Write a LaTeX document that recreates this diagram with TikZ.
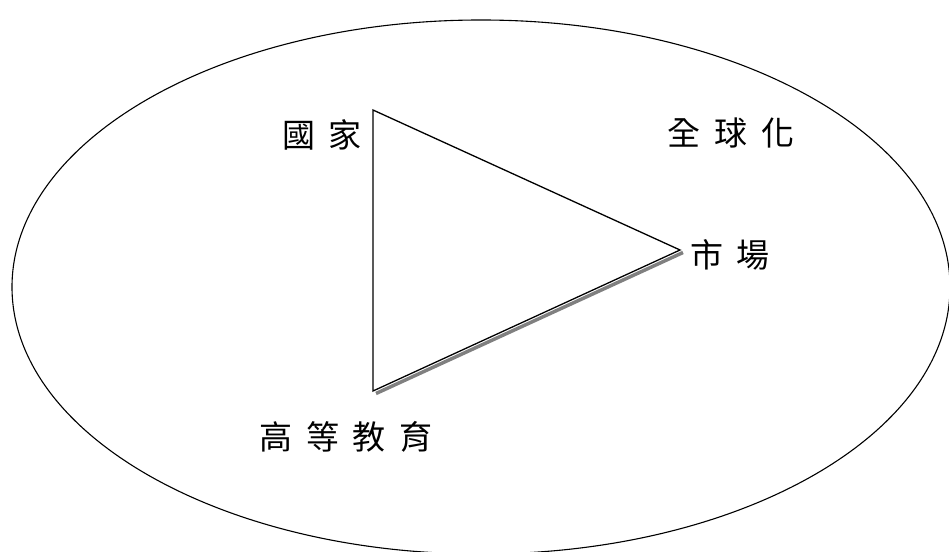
\documentclass[tikz,border=0pt]{standalone}
\usepackage{fontspec}
\newfontfamily\cjk{Noto Sans CJK TC}
\usepackage{tikz}
\newcommand\gap{\hspace{0.42em}}

\begin{document}
\begin{tikzpicture}[x=1pt,y=1pt,
  label/.style={font=\cjk\fontsize{33}{40}\selectfont, inner sep=0pt}]
  \useasboundingbox (0,0) rectangle (949,551);
  \clip (0,0) rectangle (949,551);

  \draw [line width=1.1pt] (481,264) ellipse [x radius=469, y radius=267];

  \coordinate (state) at (373,441);
  \coordinate (edu) at (373,160);
  \coordinate (market) at (680,301);

  % shadow
  \draw [gray, line width=3.5pt] ([shift={(3,-2.5)}]edu) -- ([shift={(3,-2.5)}]market);
  \draw [line width=1.3pt, fill=white, line join=miter] (state) -- (market) -- (edu) -- cycle;

  \node [label] (stateL) at (322,416) {國\gap 家};
  \node [label] (globalL) at (731,418) {全\gap 球\gap 化};
  \node [label] (marketL) at (730,296) {市\gap 場};
  \node [label] (eduL) at (346,114) {高\gap 等\gap 教\gap 育};
\end{tikzpicture}
\end{document}
